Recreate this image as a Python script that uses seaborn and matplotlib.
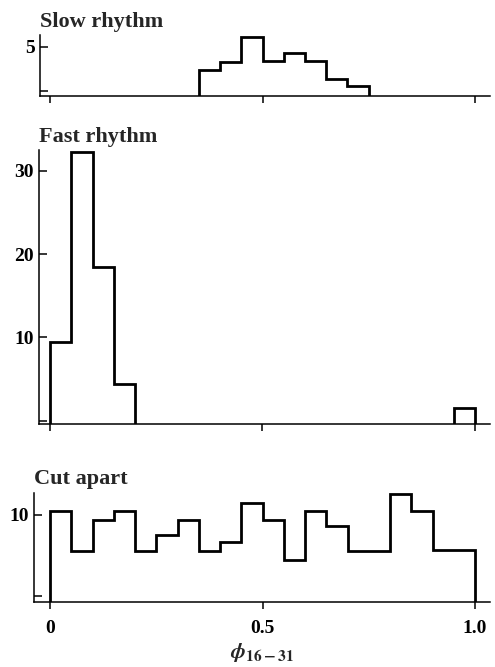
import seaborn as sns
import matplotlib.pyplot as plt
import numpy as np
import pandas as pd

# phase bins (width 0.05) shared by all three histograms
phase_edges = [0.00, 0.05, 0.10, 0.15, 0.20, 0.25, 0.30, 0.35, 0.40, 0.45, 0.50,
               0.55, 0.60, 0.65, 0.70, 0.75, 0.80, 0.85, 0.90, 0.95, 1.00]

# counts per bin
slow_counts = [0, 0, 0, 0, 0, 0, 0, 2.4, 3.3, 6.1, 3.4, 4.3, 3.4, 1.4, 0.6,
               0, 0, 0, 0, 0]
fast_counts = [9.5, 32.2, 18.4, 4.4, 0, 0, 0, 0, 0, 0, 0, 0, 0, 0, 0,
               0, 0, 0, 0, 1.5]
cut_counts = [10.5, 5.5, 9.4, 10.4, 5.5, 7.5, 9.4, 5.5, 6.6, 11.4,
              9.4, 4.5, 10.5, 8.6, 5.6, 5.6, 12.6, 10.5, 5.7, 5.7]

titles = ["Slow rhythm", "Fast rhythm", "Cut apart"]
y_ticks = [[0, 5], [0, 10, 20, 30], [0, 10]]
x_ticks = [0, 0.5, 1.0]
x_tick_labels = ["0", "0.5", "1.0"]

sns.set_style("ticks")
plt.rcParams['font.family'] = ['Liberation Serif', 'DejaVu Serif']
plt.rcParams['font.weight'] = 'bold'
plt.rcParams['mathtext.fontset'] = 'stix'

W, H = 495, 667
fig = plt.figure(figsize=(W / 100, H / 100), dpi=100)

# axes boxes in pixels: left, top, right, bottom
boxes = [(40, 35, 490, 95.7), (39, 150, 490, 424), (34, 492.7, 490, 601.7)]
ylims = [(-0.53, 6.3), (-0.4, 32.5), (-0.68, 12.7)]

data = [slow_counts, fast_counts, cut_counts]
x0_px, x1_px = 50, 475  # pixel positions of phase 0 and 1

for i, counts in enumerate(data):
    l, t, r, b = boxes[i]
    ax = fig.add_axes([l / W, 1 - b / H, (r - l) / W, (b - t) / H])
    scale = (x1_px - x0_px)
    ax.set_xlim((l - x0_px) / scale, (r - x0_px) / scale)
    ax.set_ylim(*ylims[i])

    vals = np.array(counts, dtype=float)
    vals[vals == 0] = np.nan  # empty bins stay on the axis line
    ax.stairs(vals, phase_edges, baseline=ylims[i][0], color="black",
              linewidth=2.0)

    sns.despine(ax=ax)
    for s in ["left", "bottom"]:
        ax.spines[s].set_linewidth(1.1)
        ax.spines[s].set_color("black")

    ax.set_yticks(y_ticks[i])
    ax.set_yticklabels([""] + [str(v) for v in y_ticks[i][1:]], fontsize=14,
                       fontweight="bold")
    ax.tick_params(axis="y", direction="in", length=6, width=1.1, pad=4,
                   colors="black")
    ax.set_xticks(x_ticks)
    ax.tick_params(axis="x", direction="out", length=5, width=1.1, pad=8,
                   colors="black")
    if i == 2:
        ax.set_xticklabels(x_tick_labels, fontsize=14, fontweight="bold")
        ax.set_xlabel(r"$\boldsymbol{\phi}_{\mathbf{16-31}}$", fontsize=16,
                      labelpad=3)
    else:
        ax.set_xticklabels([])

    ax.set_title(titles[i], loc="left", fontsize=16, fontweight="bold",
                 pad=6, x=0.0)

fig.savefig("out.png", dpi=100)
